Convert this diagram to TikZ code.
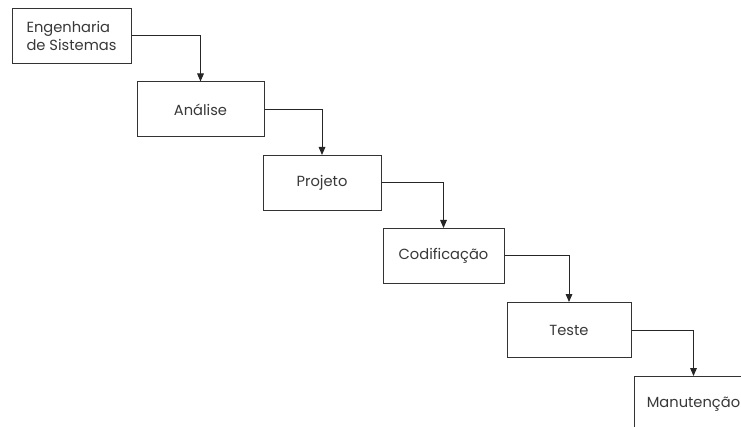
\documentclass[tikz,border=0pt]{standalone}
\usepackage{fontspec}
\setmainfont{Poppins}
\usetikzlibrary{arrows.meta}

\tikzset{
  etapa/.style={draw=black!80, line width=0.75pt, fill=white, text=black!78,
    minimum height=41.25pt, inner sep=2pt, align=left,
    font=\fontsize{11}{14}\selectfont},
  seta/.style={draw=black!85, line width=0.75pt, -{Triangle[length=6pt,width=5pt]}}
}

\begin{document}
\begin{tikzpicture}[x=0.75pt,y=-0.75pt]
\useasboundingbox (0,0) rectangle (741,427);
\clip (0,0) rectangle (741,427);

\node[etapa, minimum width=89.25pt] (eng) at (71.5,36) {Engenharia\\de Sistemas};
\node[etapa, minimum width=95.25pt] (ana) at (200.5,109.5) {Análise};
\node[etapa, minimum width=88.5pt] (proj) at (322,183) {Projeto};
\node[etapa, minimum width=90.75pt] (cod) at (443.5,256) {Codificação};
\node[etapa, minimum width=93pt] (tes) at (569,330) {Teste};
\node[etapa, minimum width=88.5pt, anchor=north west] (man) at (634,376) {Manutenção};

\draw[seta] (eng.east) -| (ana.north);
\draw[seta] (ana.east) -| (proj.north);
\draw[seta] (proj.east) -| (cod.north);
\draw[seta] (cod.east) -| (tes.north);
\draw[seta] (tes.east) -| (man.north);

\end{tikzpicture}
\end{document}
